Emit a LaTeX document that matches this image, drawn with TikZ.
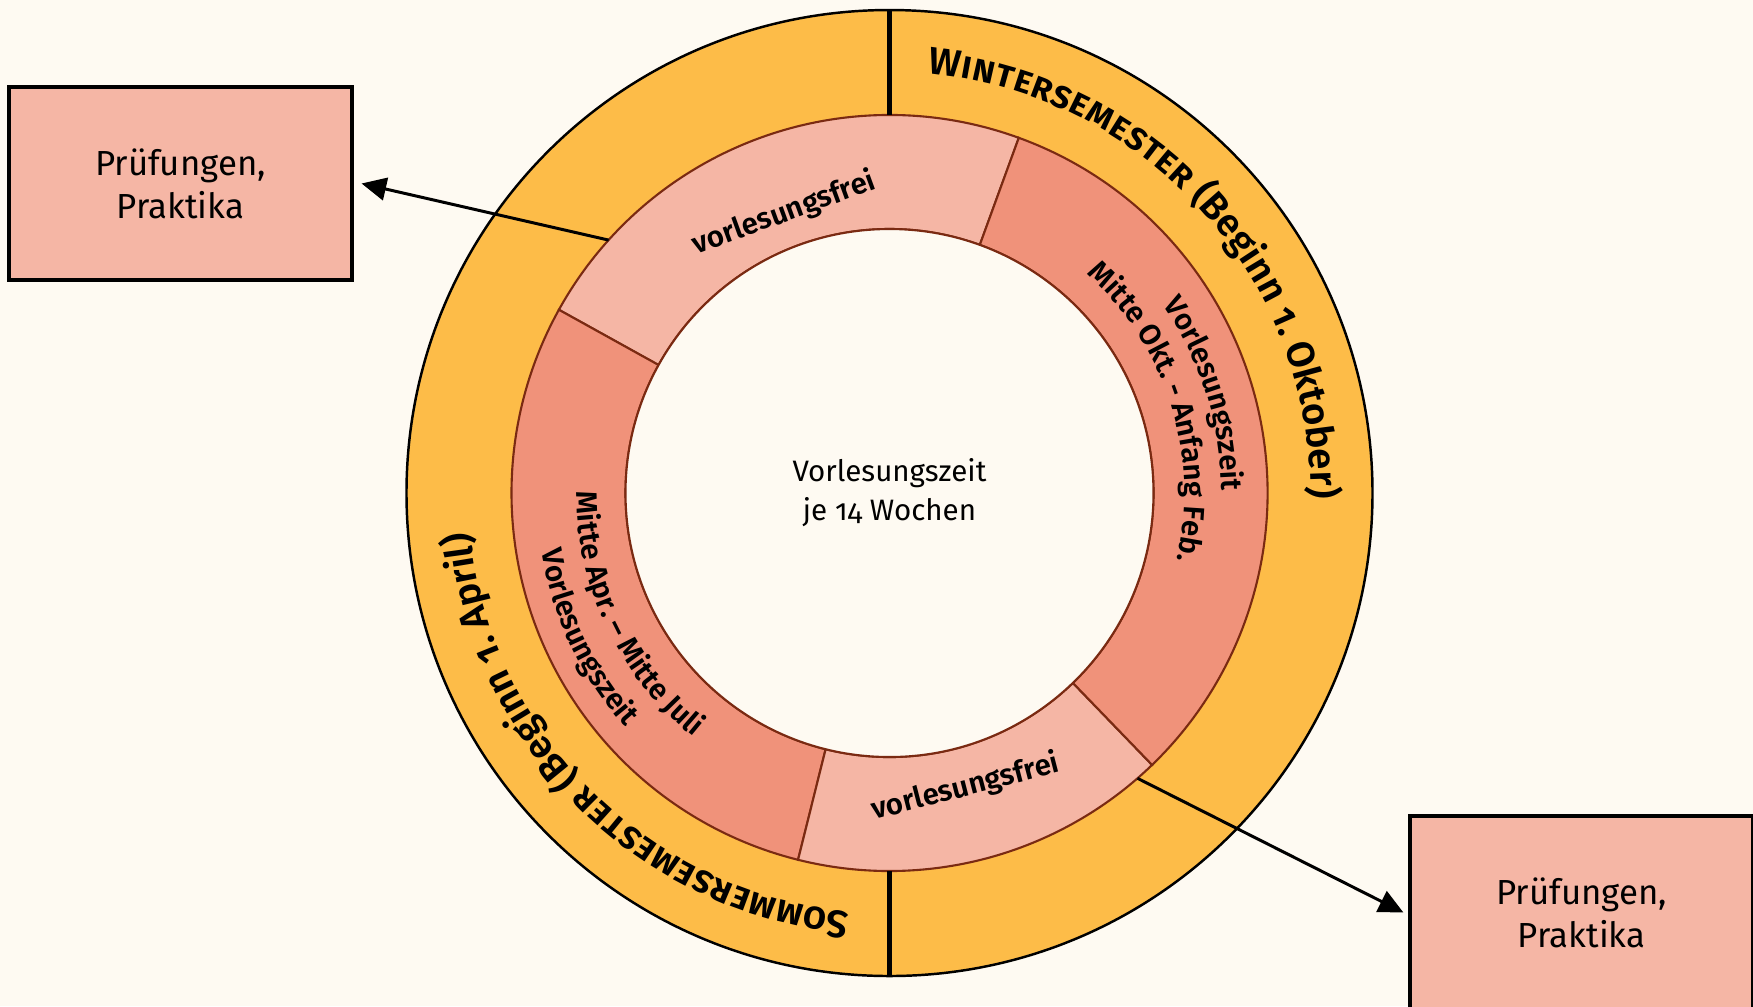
\documentclass[tikz,border=0pt]{standalone}
\usepackage{fontspec}
\setmainfont{Fira Sans}[Numbers=OldStyle, BoldFont={Fira Sans SemiBold}]
\usetikzlibrary{arrows.meta,decorations.text}
\definecolor{grund}{HTML}{FEFAF2}
\definecolor{semester}{HTML}{FDBC48}
\definecolor{frei}{HTML}{F5B6A5}
\definecolor{vorlesung}{HTML}{F0927A}
\definecolor{rand}{HTML}{7A2A12}
\newcommand\semfont{\fontsize{10.9}{13}\selectfont\bfseries}
\newcommand\segfont{\fontsize{8.4}{10}\selectfont\bfseries}
\tikzset{
  segment/.style={fill=#1, draw=rand, line width=0.6pt},
  kasten/.style={draw, line width=0.9pt, fill=frei, minimum width=3.43cm,
    minimum height=1.93cm, align=center, font=\fontsize{9.9}{12.2}\selectfont},
  pfeil/.style={-{Triangle[length=7pt,width=6.5pt]}, line width=0.85pt},
  bogen/.style={decorate, decoration={text along path, text align=center, text={#1}}}
}
\begin{document}
\begin{tikzpicture}
  \fill[grund, use as bounding box] (-8.895,-5.13) rectangle (8.635,4.93);
  \draw[fill=semester, line width=0.7pt] (0,0) circle (4.83);
  \draw[segment=frei] (70:2.64) arc[start angle=70, end angle=151, radius=2.64]
    -- (151:3.78) arc[start angle=151, end angle=70, radius=3.78] -- cycle;
  \draw[segment=vorlesung] (151:2.64) arc[start angle=151, end angle=256, radius=2.64]
    -- (256:3.78) arc[start angle=256, end angle=151, radius=3.78] -- cycle;
  \draw[segment=frei] (256:2.64) arc[start angle=256, end angle=314, radius=2.64]
    -- (314:3.78) arc[start angle=314, end angle=256, radius=3.78] -- cycle;
  \draw[segment=vorlesung] (314:2.64) arc[start angle=314, end angle=430, radius=2.64]
    -- (430:3.78) arc[start angle=430, end angle=314, radius=3.78] -- cycle;
  \draw[fill=grund, draw=rand, line width=0.6pt] (0,0) circle (2.64);
  \draw[line width=1.7pt] (90:3.78) -- (90:4.83) (270:3.78) -- (270:4.83);

  \path[bogen={|\semfont\upshape|W|\semfont\scshape|intersemester |\semfont\upshape|(Beginn 1. Oktober)}]
    (100:4.21) arc[start angle=100, end angle=-16, radius=4.21];
  \path[bogen={|\semfont\upshape|S|\semfont\scshape|ommersemester |\semfont\upshape|(Beginn 1. April)}]
    (283:4.21) arc[start angle=283, end angle=167, radius=4.21];
  \path[bogen={|\segfont|Vorlesungszeit}]
    (75:3.32) arc[start angle=75, end angle=-40, radius=3.32];
  \path[bogen={|\segfont|Mitte Okt. - Anfang Feb.}]
    (75:2.95) arc[start angle=75, end angle=-40, radius=2.95];
  \path[bogen={|\segfont|Mitte Apr. – Mitte Juli}]
    (148:3.13) arc[start angle=148, end angle=263, radius=3.13];
  \path[bogen={|\segfont|Vorlesungszeit}]
    (148:3.53) arc[start angle=148, end angle=263, radius=3.53];

  \node (mitte) at (0,0) [align=center, font=\fontsize{8.4}{11.1}\selectfont]
    {Vorlesungszeit\\je 14 Wochen};
  \node (frei-oben) at (110.7:2.99) [rotate=20, font=\segfont] {vorlesungsfrei};
  \node (frei-unten) at (284.5:3.04) [rotate=14.5, font=\segfont] {vorlesungsfrei};
  \node[kasten] (pruef-links) at (-7.09,3.095) {Prüfungen,\\Praktika};
  \node[kasten] (pruef-rechts) at (6.92,-4.195) {Prüfungen,\\Praktika};

  \coordinate (ende-oben) at (138:3.78);
  \coordinate (ende-unten) at (-49:3.78);
  \draw[pfeil] (ende-oben) -- ([xshift=0.08cm]pruef-links.east);
  \draw[pfeil] (ende-unten) -- ([xshift=-0.05cm]pruef-rechts.west);
\end{tikzpicture}
\end{document}
